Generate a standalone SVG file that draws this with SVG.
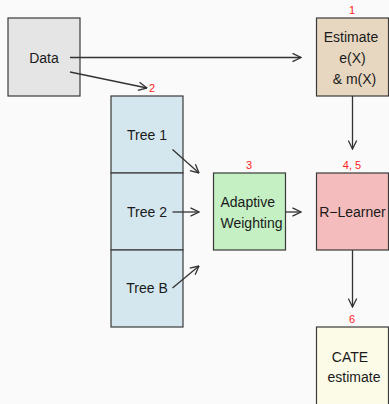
<svg xmlns="http://www.w3.org/2000/svg" width="389" height="404" viewBox="0 0 389 404">
<style>
.box{stroke:#3a3a3a;stroke-width:1.2}
.t{font-family:"Liberation Sans",Arial,sans-serif;font-size:14px;fill:#1a1a1a}
.n{font-family:"Liberation Sans",Arial,sans-serif;font-size:11px;fill:#ff1a1a;text-anchor:middle}
.c{stroke:#333;stroke-width:1.3;fill:none;marker-end:url(#ah)}
</style>
<defs>
<marker id="ah" viewBox="0 0 10 10" refX="9.5" refY="5" markerWidth="10" markerHeight="10" markerUnits="userSpaceOnUse" orient="auto">
<path d="M1,0.8 L9.5,5 L1,9.2" fill="none" stroke="#333" stroke-width="1.3"/>
</marker>
</defs>
<rect width="389" height="404" fill="#fafafa"/>
<g id="data">
<rect class="box" x="8" y="18" width="72" height="78" fill="#e5e5e5"/>
<text class="t" x="44" y="63" text-anchor="middle">Data</text>
</g>
<g id="estimate">
<rect class="box" x="316.5" y="18" width="72" height="78" fill="#e7d7c1"/>
<text class="n" x="352" y="14">1</text>
<text class="t" x="351" y="42" text-anchor="middle">Estimate</text>
<text class="t" x="352.5" y="63" text-anchor="middle">e(X)</text>
<text class="t" x="354.5" y="84" text-anchor="middle">&amp; m(X)</text>
</g>
<g id="trees">
<text class="n" x="152" y="92">2</text>
<rect class="box" x="111" y="96" width="72" height="77" fill="#d4e7ef"/>
<rect class="box" x="111" y="173" width="72" height="77" fill="#d4e7ef"/>
<rect class="box" x="111" y="250" width="72" height="77" fill="#d4e7ef"/>
<text class="t" x="147" y="140" text-anchor="middle">Tree 1</text>
<text class="t" x="147" y="217" text-anchor="middle">Tree 2</text>
<text class="t" x="147" y="293" text-anchor="middle">Tree B</text>
</g>
<g id="adaptive">
<rect class="box" x="213.5" y="173" width="72" height="77" fill="#c4f0c4"/>
<text class="n" x="249" y="169">3</text>
<text class="t" x="220.5" y="207">Adaptive</text>
<text class="t" x="220.5" y="228">Weighting</text>
</g>
<g id="rlearner">
<rect class="box" x="316.5" y="173" width="72" height="77" fill="#f4bcbc"/>
<text class="n" x="352" y="169">4, 5</text>
<text class="t" x="352.5" y="217" text-anchor="middle">R−Learner</text>
</g>
<g id="cate">
<rect class="box" x="316.5" y="327" width="72" height="80" fill="#fbfbe8"/>
<text class="n" x="352" y="323">6</text>
<text class="t" x="350" y="362" text-anchor="middle">CATE</text>
<text class="t" x="354" y="382" text-anchor="middle">estimate</text>
</g>
<g id="connectors">
<line class="c" x1="70" y1="57.5" x2="301" y2="57.5"/>
<line class="c" x1="70" y1="72" x2="147" y2="88"/>
<line class="c" x1="172.5" y1="149.5" x2="199" y2="173"/>
<line class="c" x1="172.5" y1="212" x2="199" y2="212"/>
<line class="c" x1="172.5" y1="288" x2="199" y2="266"/>
<line class="c" x1="286" y1="212" x2="301" y2="212"/>
<line class="c" x1="352.5" y1="96" x2="352.5" y2="149"/>
<line class="c" x1="352.5" y1="250" x2="352.5" y2="307"/>
</g>
</svg>
